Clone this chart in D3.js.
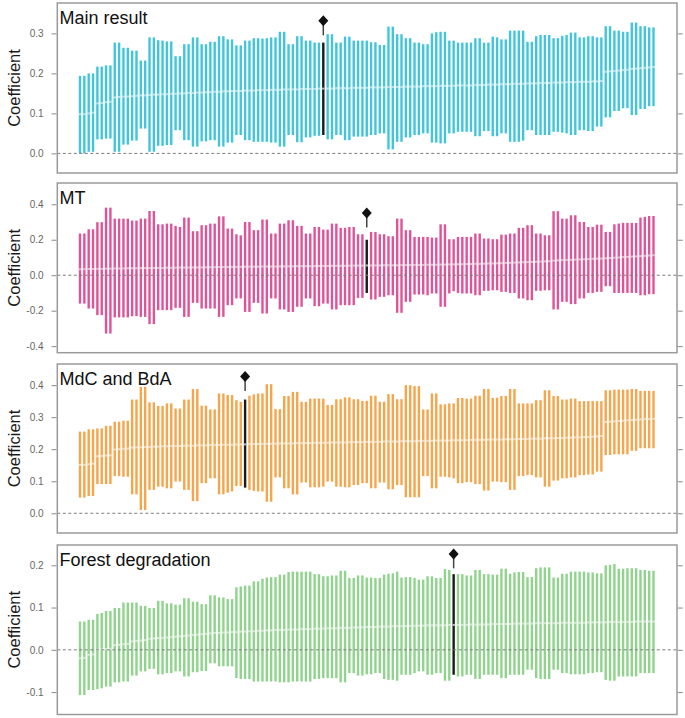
<!DOCTYPE html>
<html><head><meta charset="utf-8">
<script src="https://cdn.jsdelivr.net/npm/d3@7"></script>
<style>body{margin:0;background:#fff;} svg{display:block;font-family:"Liberation Sans",Arial,sans-serif;}</style>
</head><body><svg id="c" width="685" height="718"></svg>
<script>
// ---------------- DATA ----------------
const panelTitles = ["Main result", "MT", "MdC and BdA", "Forest degradation"];
const specifications = d3.range(133); // specification index (sorted by estimate)
const highlightIndex = [56, 66, 38, 86];
const markerValues = [0.3315, 0.351, 0.427, 0.227];

const ticks1 = [0, 0.1, 0.2, 0.3];
const ticks2 = [-0.4, -0.2, 0, 0.2, 0.4];
const ticks3 = [0, 0.1, 0.2, 0.3, 0.4];
const ticks4 = [-0.1, 0, 0.1, 0.2];

const upper1 = [0.194,0.194,0.200,0.200,0.217,0.217,0.220,0.220,0.277,0.277,0.264,0.264,0.257,0.257,0.232,0.232,0.290,0.290,0.283,0.282,0.280,0.280,0.243,0.243,0.273,0.273,0.290,0.290,0.273,0.273,0.279,0.279,0.293,0.293,0.285,0.285,0.270,0.270,0.282,0.282,0.288,0.288,0.287,0.288,0.290,0.290,0.304,0.304,0.273,0.273,0.293,0.293,0.282,0.282,0.277,0.277,0.277,0.298,0.298,0.277,0.277,0.292,0.292,0.282,0.282,0.282,0.282,0.278,0.278,0.271,0.271,0.317,0.317,0.298,0.298,0.288,0.288,0.277,0.277,0.273,0.273,0.300,0.303,0.304,0.304,0.282,0.282,0.277,0.277,0.277,0.277,0.288,0.288,0.277,0.277,0.292,0.290,0.285,0.285,0.307,0.307,0.307,0.307,0.279,0.279,0.293,0.296,0.296,0.296,0.288,0.288,0.294,0.296,0.302,0.302,0.290,0.290,0.293,0.293,0.290,0.290,0.318,0.318,0.307,0.307,0.304,0.304,0.327,0.327,0.318,0.318,0.315,0.315];
const lower1 = [0.000,0.000,0.004,0.004,0.035,0.035,0.037,0.037,0.004,0.004,0.022,0.022,0.032,0.032,0.062,0.062,0.004,0.004,0.019,0.019,0.021,0.021,0.058,0.058,0.033,0.033,0.017,0.017,0.030,0.030,0.033,0.033,0.017,0.017,0.027,0.027,0.046,0.046,0.033,0.033,0.029,0.029,0.029,0.029,0.027,0.027,0.017,0.017,0.046,0.046,0.028,0.028,0.040,0.040,0.044,0.044,0.046,0.035,0.035,0.046,0.046,0.033,0.033,0.042,0.042,0.042,0.042,0.046,0.046,0.050,0.050,0.010,0.010,0.029,0.029,0.040,0.040,0.046,0.046,0.050,0.050,0.027,0.027,0.025,0.025,0.050,0.050,0.054,0.054,0.054,0.054,0.043,0.043,0.056,0.056,0.043,0.043,0.050,0.050,0.029,0.029,0.029,0.032,0.058,0.058,0.046,0.046,0.046,0.046,0.054,0.054,0.052,0.050,0.046,0.046,0.058,0.058,0.056,0.056,0.067,0.067,0.090,0.090,0.106,0.106,0.113,0.113,0.096,0.096,0.111,0.111,0.118,0.118];
const est1 = [0.098,0.098,0.100,0.102,0.125,0.126,0.128,0.129,0.140,0.141,0.142,0.142,0.143,0.144,0.145,0.145,0.146,0.147,0.147,0.148,0.148,0.149,0.149,0.150,0.150,0.151,0.151,0.152,0.152,0.153,0.153,0.154,0.154,0.155,0.155,0.156,0.156,0.156,0.157,0.157,0.157,0.158,0.158,0.158,0.159,0.159,0.159,0.160,0.160,0.160,0.160,0.161,0.161,0.161,0.161,0.162,0.162,0.162,0.162,0.163,0.163,0.163,0.163,0.164,0.164,0.164,0.164,0.165,0.165,0.165,0.165,0.166,0.166,0.166,0.166,0.167,0.167,0.167,0.167,0.168,0.168,0.168,0.168,0.169,0.169,0.169,0.169,0.170,0.170,0.170,0.170,0.171,0.171,0.171,0.172,0.172,0.172,0.173,0.173,0.173,0.174,0.174,0.174,0.175,0.175,0.175,0.176,0.176,0.176,0.177,0.177,0.177,0.178,0.178,0.178,0.179,0.179,0.179,0.180,0.180,0.181,0.204,0.205,0.206,0.207,0.208,0.209,0.211,0.212,0.213,0.214,0.215,0.216];

const upper2 = [0.235,0.235,0.259,0.259,0.299,0.299,0.381,0.381,0.319,0.319,0.319,0.319,0.308,0.308,0.319,0.319,0.362,0.362,0.287,0.287,0.291,0.291,0.278,0.272,0.325,0.325,0.248,0.248,0.282,0.282,0.291,0.291,0.332,0.332,0.263,0.263,0.231,0.225,0.300,0.300,0.254,0.254,0.314,0.314,0.235,0.235,0.291,0.291,0.310,0.310,0.278,0.278,0.235,0.235,0.272,0.272,0.257,0.257,0.291,0.291,0.267,0.267,0.272,0.272,0.231,0.231,0.200,0.244,0.244,0.231,0.231,0.220,0.220,0.319,0.319,0.254,0.254,0.216,0.216,0.216,0.216,0.212,0.212,0.287,0.287,0.203,0.203,0.216,0.216,0.216,0.216,0.235,0.235,0.207,0.207,0.203,0.203,0.229,0.229,0.235,0.235,0.267,0.267,0.282,0.282,0.235,0.235,0.225,0.225,0.361,0.361,0.319,0.319,0.338,0.338,0.300,0.300,0.272,0.272,0.285,0.285,0.244,0.244,0.287,0.291,0.295,0.295,0.295,0.295,0.325,0.329,0.334,0.334];
const lower2 = [-0.160,-0.160,-0.188,-0.188,-0.225,-0.225,-0.329,-0.329,-0.238,-0.238,-0.238,-0.238,-0.231,-0.231,-0.235,-0.235,-0.276,-0.276,-0.197,-0.197,-0.197,-0.197,-0.184,-0.184,-0.235,-0.235,-0.156,-0.156,-0.188,-0.188,-0.188,-0.188,-0.235,-0.235,-0.169,-0.169,-0.131,-0.131,-0.207,-0.207,-0.156,-0.156,-0.216,-0.216,-0.131,-0.131,-0.193,-0.193,-0.207,-0.207,-0.178,-0.178,-0.131,-0.131,-0.175,-0.175,-0.160,-0.160,-0.193,-0.193,-0.169,-0.169,-0.169,-0.169,-0.128,-0.128,-0.100,-0.137,-0.137,-0.122,-0.122,-0.113,-0.113,-0.212,-0.212,-0.150,-0.150,-0.109,-0.109,-0.109,-0.113,-0.103,-0.103,-0.178,-0.178,-0.103,-0.090,-0.100,-0.103,-0.103,-0.103,-0.113,-0.113,-0.088,-0.088,-0.085,-0.085,-0.094,-0.094,-0.100,-0.100,-0.131,-0.131,-0.141,-0.141,-0.088,-0.088,-0.085,-0.085,-0.193,-0.193,-0.150,-0.150,-0.163,-0.163,-0.131,-0.131,-0.100,-0.100,-0.094,-0.094,-0.062,-0.062,-0.100,-0.100,-0.100,-0.100,-0.100,-0.100,-0.113,-0.113,-0.107,-0.107];
const est2 = [0.033,0.034,0.035,0.035,0.036,0.036,0.037,0.037,0.038,0.038,0.038,0.039,0.039,0.039,0.040,0.040,0.040,0.041,0.041,0.041,0.042,0.042,0.042,0.043,0.043,0.043,0.044,0.044,0.044,0.045,0.045,0.045,0.046,0.046,0.046,0.047,0.047,0.047,0.048,0.048,0.048,0.048,0.049,0.049,0.049,0.049,0.050,0.050,0.050,0.050,0.051,0.051,0.051,0.051,0.052,0.052,0.052,0.052,0.053,0.053,0.053,0.053,0.054,0.054,0.054,0.054,0.055,0.055,0.055,0.055,0.056,0.056,0.056,0.056,0.057,0.057,0.057,0.058,0.058,0.058,0.059,0.059,0.059,0.060,0.060,0.061,0.061,0.062,0.062,0.063,0.063,0.064,0.064,0.065,0.066,0.066,0.067,0.068,0.069,0.070,0.071,0.072,0.073,0.074,0.075,0.076,0.077,0.078,0.079,0.082,0.084,0.085,0.086,0.087,0.088,0.089,0.090,0.091,0.092,0.093,0.094,0.096,0.097,0.099,0.100,0.102,0.103,0.105,0.106,0.108,0.109,0.111,0.113];

const upper3 = [0.255,0.255,0.262,0.262,0.265,0.265,0.273,0.273,0.286,0.286,0.289,0.289,0.355,0.355,0.395,0.395,0.346,0.346,0.335,0.335,0.343,0.343,0.327,0.327,0.355,0.355,0.388,0.388,0.336,0.336,0.324,0.324,0.374,0.374,0.369,0.369,0.353,0.348,0.355,0.367,0.371,0.374,0.374,0.403,0.403,0.325,0.325,0.366,0.366,0.379,0.379,0.348,0.348,0.358,0.358,0.358,0.358,0.338,0.338,0.356,0.356,0.362,0.362,0.356,0.356,0.351,0.351,0.367,0.367,0.348,0.348,0.372,0.372,0.356,0.356,0.400,0.400,0.397,0.397,0.324,0.324,0.374,0.374,0.340,0.340,0.343,0.343,0.360,0.360,0.358,0.358,0.367,0.367,0.388,0.388,0.360,0.361,0.366,0.366,0.388,0.388,0.343,0.343,0.343,0.343,0.353,0.353,0.384,0.384,0.366,0.366,0.355,0.355,0.358,0.358,0.350,0.350,0.350,0.350,0.350,0.350,0.384,0.384,0.386,0.386,0.386,0.386,0.388,0.388,0.382,0.382,0.382,0.382];
const lower3 = [0.049,0.049,0.054,0.054,0.091,0.091,0.091,0.091,0.116,0.116,0.114,0.114,0.059,0.059,0.010,0.010,0.073,0.073,0.083,0.083,0.078,0.078,0.099,0.099,0.073,0.073,0.038,0.038,0.094,0.094,0.109,0.109,0.059,0.059,0.064,0.068,0.085,0.085,0.080,0.073,0.070,0.068,0.068,0.036,0.036,0.112,0.112,0.078,0.078,0.059,0.059,0.096,0.096,0.081,0.081,0.081,0.083,0.099,0.099,0.083,0.083,0.081,0.081,0.088,0.088,0.094,0.094,0.078,0.078,0.096,0.096,0.075,0.075,0.088,0.088,0.050,0.050,0.050,0.050,0.116,0.116,0.078,0.078,0.114,0.114,0.112,0.109,0.094,0.094,0.097,0.097,0.091,0.091,0.071,0.071,0.099,0.099,0.097,0.097,0.073,0.073,0.116,0.116,0.119,0.119,0.112,0.112,0.083,0.083,0.102,0.102,0.109,0.109,0.112,0.112,0.119,0.119,0.121,0.121,0.130,0.130,0.182,0.182,0.184,0.184,0.184,0.184,0.195,0.195,0.203,0.203,0.203,0.203];
const est3 = [0.151,0.151,0.153,0.155,0.178,0.179,0.180,0.181,0.199,0.200,0.201,0.202,0.205,0.206,0.206,0.207,0.207,0.208,0.208,0.209,0.209,0.210,0.210,0.210,0.211,0.211,0.211,0.212,0.212,0.212,0.213,0.213,0.213,0.214,0.214,0.214,0.215,0.215,0.215,0.216,0.216,0.216,0.217,0.217,0.217,0.217,0.218,0.218,0.218,0.218,0.219,0.219,0.219,0.219,0.220,0.220,0.220,0.220,0.221,0.221,0.221,0.221,0.222,0.222,0.222,0.222,0.223,0.223,0.223,0.223,0.224,0.224,0.224,0.224,0.225,0.225,0.225,0.225,0.226,0.226,0.226,0.226,0.227,0.227,0.227,0.227,0.228,0.228,0.228,0.228,0.229,0.229,0.229,0.229,0.230,0.230,0.230,0.230,0.231,0.231,0.231,0.232,0.232,0.232,0.233,0.233,0.233,0.234,0.234,0.234,0.235,0.235,0.236,0.236,0.237,0.237,0.238,0.238,0.239,0.240,0.241,0.285,0.286,0.287,0.288,0.289,0.290,0.291,0.292,0.293,0.294,0.294,0.295];

const upper4 = [0.067,0.067,0.071,0.071,0.085,0.087,0.092,0.092,0.099,0.099,0.112,0.112,0.112,0.112,0.104,0.104,0.099,0.099,0.116,0.116,0.110,0.110,0.107,0.107,0.122,0.122,0.114,0.114,0.108,0.108,0.129,0.129,0.124,0.124,0.120,0.120,0.148,0.150,0.152,0.152,0.162,0.162,0.168,0.171,0.172,0.172,0.178,0.178,0.184,0.185,0.185,0.185,0.185,0.185,0.179,0.179,0.174,0.174,0.176,0.176,0.187,0.187,0.170,0.170,0.176,0.176,0.171,0.171,0.170,0.170,0.178,0.180,0.181,0.185,0.171,0.172,0.172,0.170,0.166,0.166,0.174,0.174,0.170,0.170,0.191,0.189,0.179,0.179,0.179,0.176,0.176,0.189,0.189,0.179,0.179,0.178,0.178,0.192,0.192,0.180,0.183,0.184,0.184,0.172,0.172,0.193,0.195,0.195,0.195,0.171,0.171,0.180,0.180,0.185,0.185,0.185,0.185,0.183,0.183,0.181,0.181,0.200,0.201,0.203,0.192,0.192,0.193,0.193,0.193,0.189,0.189,0.187,0.187];
const lower4 = [-0.107,-0.107,-0.095,-0.095,-0.093,-0.091,-0.087,-0.087,-0.077,-0.077,-0.075,-0.075,-0.061,-0.061,-0.051,-0.051,-0.045,-0.045,-0.058,-0.058,-0.055,-0.055,-0.051,-0.051,-0.063,-0.063,-0.053,-0.053,-0.050,-0.050,-0.032,-0.032,-0.039,-0.039,-0.039,-0.039,-0.067,-0.069,-0.069,-0.069,-0.075,-0.075,-0.075,-0.075,-0.075,-0.075,-0.077,-0.077,-0.077,-0.075,-0.075,-0.075,-0.075,-0.075,-0.069,-0.069,-0.067,-0.067,-0.067,-0.067,-0.077,-0.077,-0.055,-0.055,-0.061,-0.061,-0.058,-0.058,-0.055,-0.055,-0.069,-0.071,-0.071,-0.073,-0.059,-0.059,-0.059,-0.055,-0.051,-0.051,-0.059,-0.059,-0.055,-0.055,-0.073,-0.073,-0.059,-0.063,-0.063,-0.059,-0.059,-0.069,-0.069,-0.059,-0.059,-0.059,-0.059,-0.067,-0.067,-0.059,-0.059,-0.059,-0.059,-0.047,-0.047,-0.067,-0.069,-0.069,-0.069,-0.047,-0.047,-0.055,-0.055,-0.058,-0.058,-0.058,-0.058,-0.055,-0.055,-0.053,-0.053,-0.071,-0.073,-0.073,-0.063,-0.063,-0.063,-0.063,-0.063,-0.055,-0.055,-0.055,-0.055];
const est4 = [-0.020,-0.019,-0.012,-0.011,0.000,0.001,0.002,0.003,0.011,0.012,0.013,0.014,0.020,0.021,0.022,0.023,0.026,0.027,0.028,0.028,0.029,0.030,0.031,0.032,0.033,0.034,0.035,0.036,0.037,0.038,0.039,0.040,0.040,0.041,0.041,0.042,0.042,0.043,0.043,0.044,0.044,0.045,0.045,0.046,0.046,0.047,0.047,0.047,0.048,0.048,0.048,0.049,0.049,0.049,0.050,0.050,0.050,0.051,0.051,0.051,0.052,0.052,0.052,0.053,0.053,0.053,0.054,0.054,0.054,0.055,0.055,0.055,0.056,0.056,0.056,0.056,0.057,0.057,0.057,0.057,0.058,0.058,0.058,0.058,0.058,0.059,0.059,0.059,0.059,0.059,0.060,0.060,0.060,0.060,0.060,0.061,0.061,0.061,0.061,0.061,0.062,0.062,0.062,0.062,0.062,0.063,0.063,0.063,0.063,0.063,0.063,0.064,0.064,0.064,0.064,0.064,0.064,0.065,0.065,0.065,0.065,0.065,0.066,0.066,0.066,0.066,0.066,0.066,0.067,0.067,0.067,0.067,0.067];

// ---------------- LAYOUT / STYLE ----------------
const panels = [
  {title: panelTitles[0], up: upper1, lo: lower1, est: est1, ticks: ticks1, hi: highlightIndex[0], mk: markerValues[0],
   top: 3, bottom: 173, domain: [-0.049, 0.376], color: "#40c6da"},
  {title: panelTitles[1], up: upper2, lo: lower2, est: est2, ticks: ticks2, hi: highlightIndex[1], mk: markerValues[1],
   top: 183, bottom: 352.7, domain: [-0.437, 0.52], color: "#df5399"},
  {title: panelTitles[2], up: upper3, lo: lower3, est: est3, ticks: ticks3, hi: highlightIndex[2], mk: markerValues[2],
   top: 364, bottom: 533, domain: [-0.0616, 0.466], color: "#f6a54b"},
  {title: panelTitles[3], up: upper4, lo: lower4, est: est4, ticks: ticks4, hi: highlightIndex[3], mk: markerValues[3],
   top: 545, bottom: 714.5, domain: [-0.153, 0.248], color: "#8fd38c"}
];

const boxL = 57.3, boxR = 677;
const barW = 2.4;
const svg = d3.select("#c");
const x = d3.scaleLinear().domain([0, specifications.length - 1]).range([80, 653.5]);

panels.forEach(p => {
  const y = d3.scaleLinear().domain(p.domain).range([p.bottom, p.top]);
  const g = svg.append("g");

  // bars
  const data = specifications.map(i => ({i, up: p.up[i], lo: p.lo[i], est: p.est[i]}));
  g.selectAll("rect.bar").data(data).join("rect")
    .attr("class", "bar")
    .attr("x", d => x(d.i) - barW / 2)
    .attr("width", barW)
    .attr("y", d => y(d.up))
    .attr("height", d => y(d.lo) - y(d.up))
    .attr("fill", d => d.i === p.hi ? "#1a1a1a" : p.color);

  // estimate marks
  g.selectAll("rect.est").data(data).join("rect")
    .attr("class", "est")
    .attr("x", d => x(d.i) - barW / 2)
    .attr("width", barW)
    .attr("y", d => y(d.est) - 1)
    .attr("height", 2)
    .attr("fill", d => d.i === p.hi ? "#bbbbbb" : "#ffffff")
    .attr("opacity", d => d.i === p.hi ? 1 : 0.55);

  // zero line
  g.append("line")
    .attr("x1", boxL).attr("x2", boxR)
    .attr("y1", y(0)).attr("y2", y(0))
    .attr("stroke", "#7d7d7d").attr("stroke-width", 1)
    .attr("stroke-dasharray", "3,2.5");

  // marker
  const hx = x(p.hi), my = y(p.mk);
  g.append("line").attr("x1", hx).attr("x2", hx).attr("y1", my).attr("y2", my + 14.5)
    .attr("stroke", "#444").attr("stroke-width", 1.5);
  g.append("path")
    .attr("d", `M${hx},${my - 5.5}L${hx + 5},${my}L${hx},${my + 5.5}L${hx - 5},${my}Z`)
    .attr("fill", "#111");

  // box
  g.append("rect")
    .attr("x", boxL).attr("y", p.top)
    .attr("width", boxR - boxL).attr("height", p.bottom - p.top)
    .attr("fill", "none").attr("stroke", "#9a9a9a").attr("stroke-width", 1.5);

  // left axis
  const ax = g.append("g").attr("transform", `translate(${boxL - 0.75},0)`)
    .call(d3.axisLeft(y).tickValues(p.ticks).tickSize(5).tickPadding(8).tickFormat(d3.format(".1f")));
  ax.select(".domain").remove();
  ax.selectAll(".tick line").attr("stroke", "#8a8a8a");
  ax.selectAll(".tick text").attr("fill", "#666").style("font-size", "10px")
    .style("font-family", "'Liberation Sans', Arial, sans-serif")
    .text(d => d3.format(".1f")(d).replace("−", "-"));

  // right axis (ticks only)
  const axr = g.append("g").attr("transform", `translate(${boxR + 0.75},0)`)
    .call(d3.axisRight(y).tickValues(p.ticks).tickSize(5).tickFormat(""));
  axr.select(".domain").remove();
  axr.selectAll(".tick line").attr("stroke", "#8a8a8a");

  // y label
  g.append("text")
    .attr("transform", `translate(20,${(p.top + p.bottom) / 2}) rotate(-90)`)
    .attr("text-anchor", "middle")
    .style("font-size", "16.5px").attr("fill", "#1a1a1a")
    .text("Coefficient");

  // title
  g.append("text")
    .attr("x", 59.5).attr("y", p.top + 21)
    .style("font-size", "18px").attr("fill", "#111")
    .text(p.title);
});
</script>
</body></html>
